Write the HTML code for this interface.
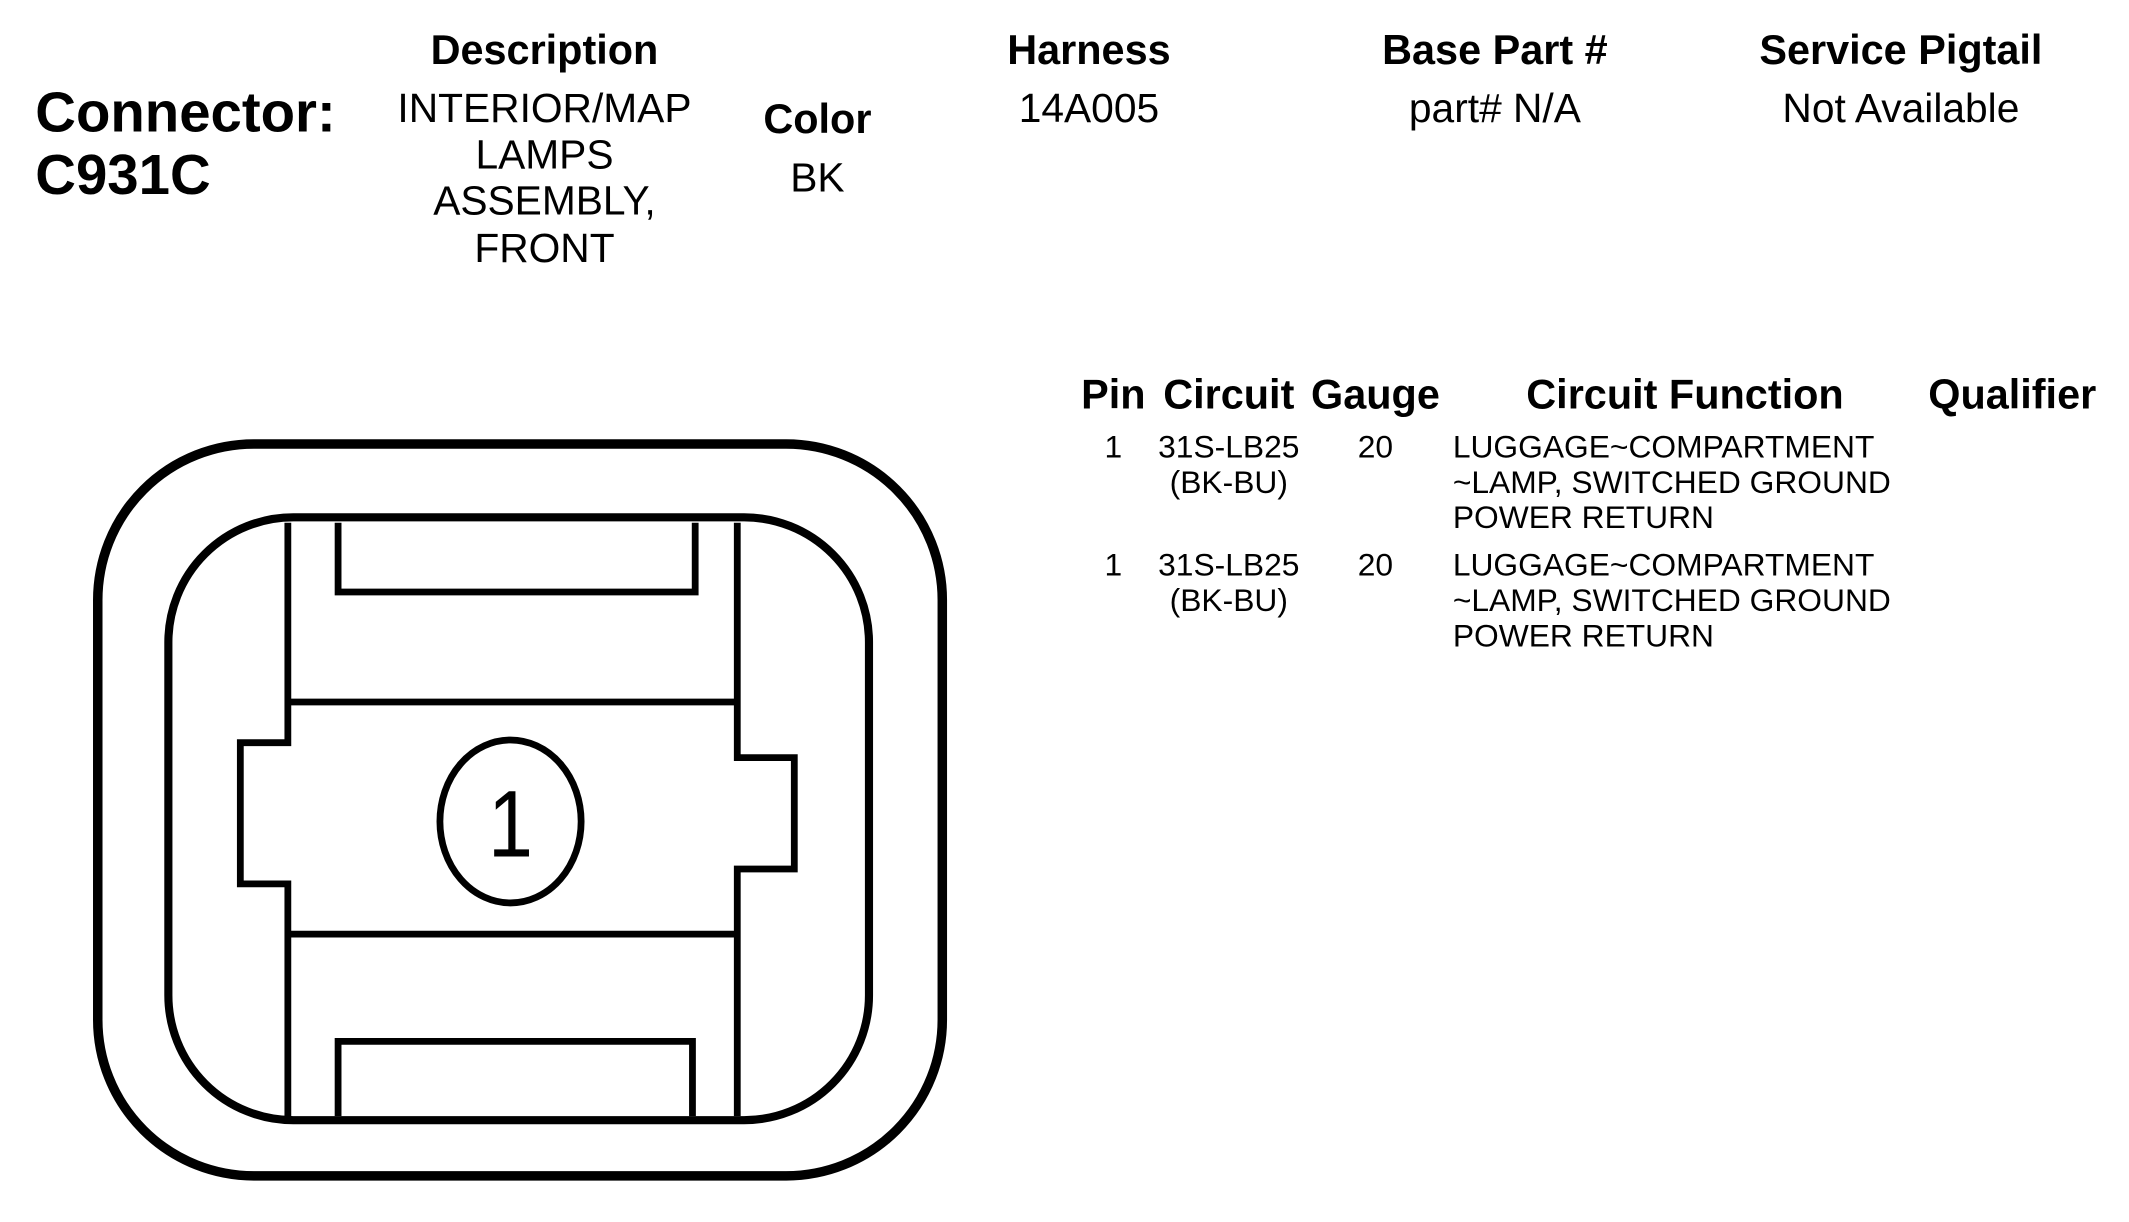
<!DOCTYPE html>
<html><head><meta charset="utf-8"><style>
html,body{margin:0;padding:0;background:#fff;}
svg{display:block;}
text{font-family:"Liberation Sans",Arial,sans-serif;fill:#000;}
.h{font-weight:bold;font-size:30.5px;text-anchor:middle;}
.v{font-size:30px;text-anchor:middle;}
.r{font-size:23.4px;}
.c{text-anchor:middle;}
</style></head><body>
<svg width="2129" height="1222" viewBox="0 0 1568 900" preserveAspectRatio="none" xmlns="http://www.w3.org/2000/svg">
<text x="26" y="97" style="font-weight:bold;font-size:41.5px">Connector:</text>
<text x="26" y="143" style="font-weight:bold;font-size:41.5px">C931C</text>
<text class="h" x="401" y="47">Description</text>
<text class="v" x="401" y="90">INTERIOR/MAP</text>
<text class="v" x="401" y="124">LAMPS</text>
<text class="v" x="401" y="158">ASSEMBLY,</text>
<text class="v" x="401" y="193">FRONT</text>
<text class="h" x="602" y="98">Color</text>
<text class="v" x="602" y="141">BK</text>
<text class="h" x="802" y="47">Harness</text>
<text class="v" x="802" y="90">14A005</text>
<text class="h" x="1101" y="47">Base Part #</text>
<text class="v" x="1101" y="90">part# N/A</text>
<text class="h" x="1400" y="47">Service Pigtail</text>
<text class="v" x="1400" y="90">Not Available</text>

<text class="h" x="820" y="301">Pin</text>
<text class="h" x="905" y="301">Circuit</text>
<text class="h" x="1013" y="301">Gauge</text>
<text class="h" x="1241" y="301">Circuit Function</text>
<text class="h" x="1482" y="301">Qualifier</text>

<g class="r">
<text class="c" x="820" y="337">1</text>
<text class="c" x="905" y="337">31S-LB25</text>
<text class="c" x="905" y="363">(BK-BU)</text>
<text class="c" x="1013" y="337">20</text>
<text x="1070" y="337">LUGGAGE~COMPARTMENT</text>
<text x="1070" y="363">~LAMP, SWITCHED GROUND</text>
<text x="1070" y="389">POWER RETURN</text>
<text class="c" x="820" y="424">1</text>
<text class="c" x="905" y="424">31S-LB25</text>
<text class="c" x="905" y="450">(BK-BU)</text>
<text class="c" x="1013" y="424">20</text>
<text x="1070" y="424">LUGGAGE~COMPARTMENT</text>
<text x="1070" y="450">~LAMP, SWITCHED GROUND</text>
<text x="1070" y="476">POWER RETURN</text>
</g>

<g fill="none" stroke="#000" stroke-width="7" stroke-linejoin="miter">
<rect x="72" y="327" width="622" height="539" rx="115" ry="115"/>
<rect x="124" y="381" width="516" height="444" rx="92" ry="92" stroke-width="6"/>
<g stroke-width="5">
<polyline points="212,385 212,547 177,547 177,651 212,651 212,822"/>
<polyline points="543,385 543,558 585,558 585,640 543,640 543,822"/>
<polyline points="249,385 249,436 512,436 512,385"/>
<polyline points="249,822 249,767 510,767 510,822"/>
<polyline points="212,517 543,517"/>
<polyline points="212,688 543,688"/>
<ellipse cx="376" cy="605" rx="52" ry="60"/>
</g>
</g>
<text x="376" y="631" style="font-size:70px;text-anchor:middle" transform="translate(376,0) scale(0.85,1) translate(-376,0)">1</text>
</svg>
</body></html>
